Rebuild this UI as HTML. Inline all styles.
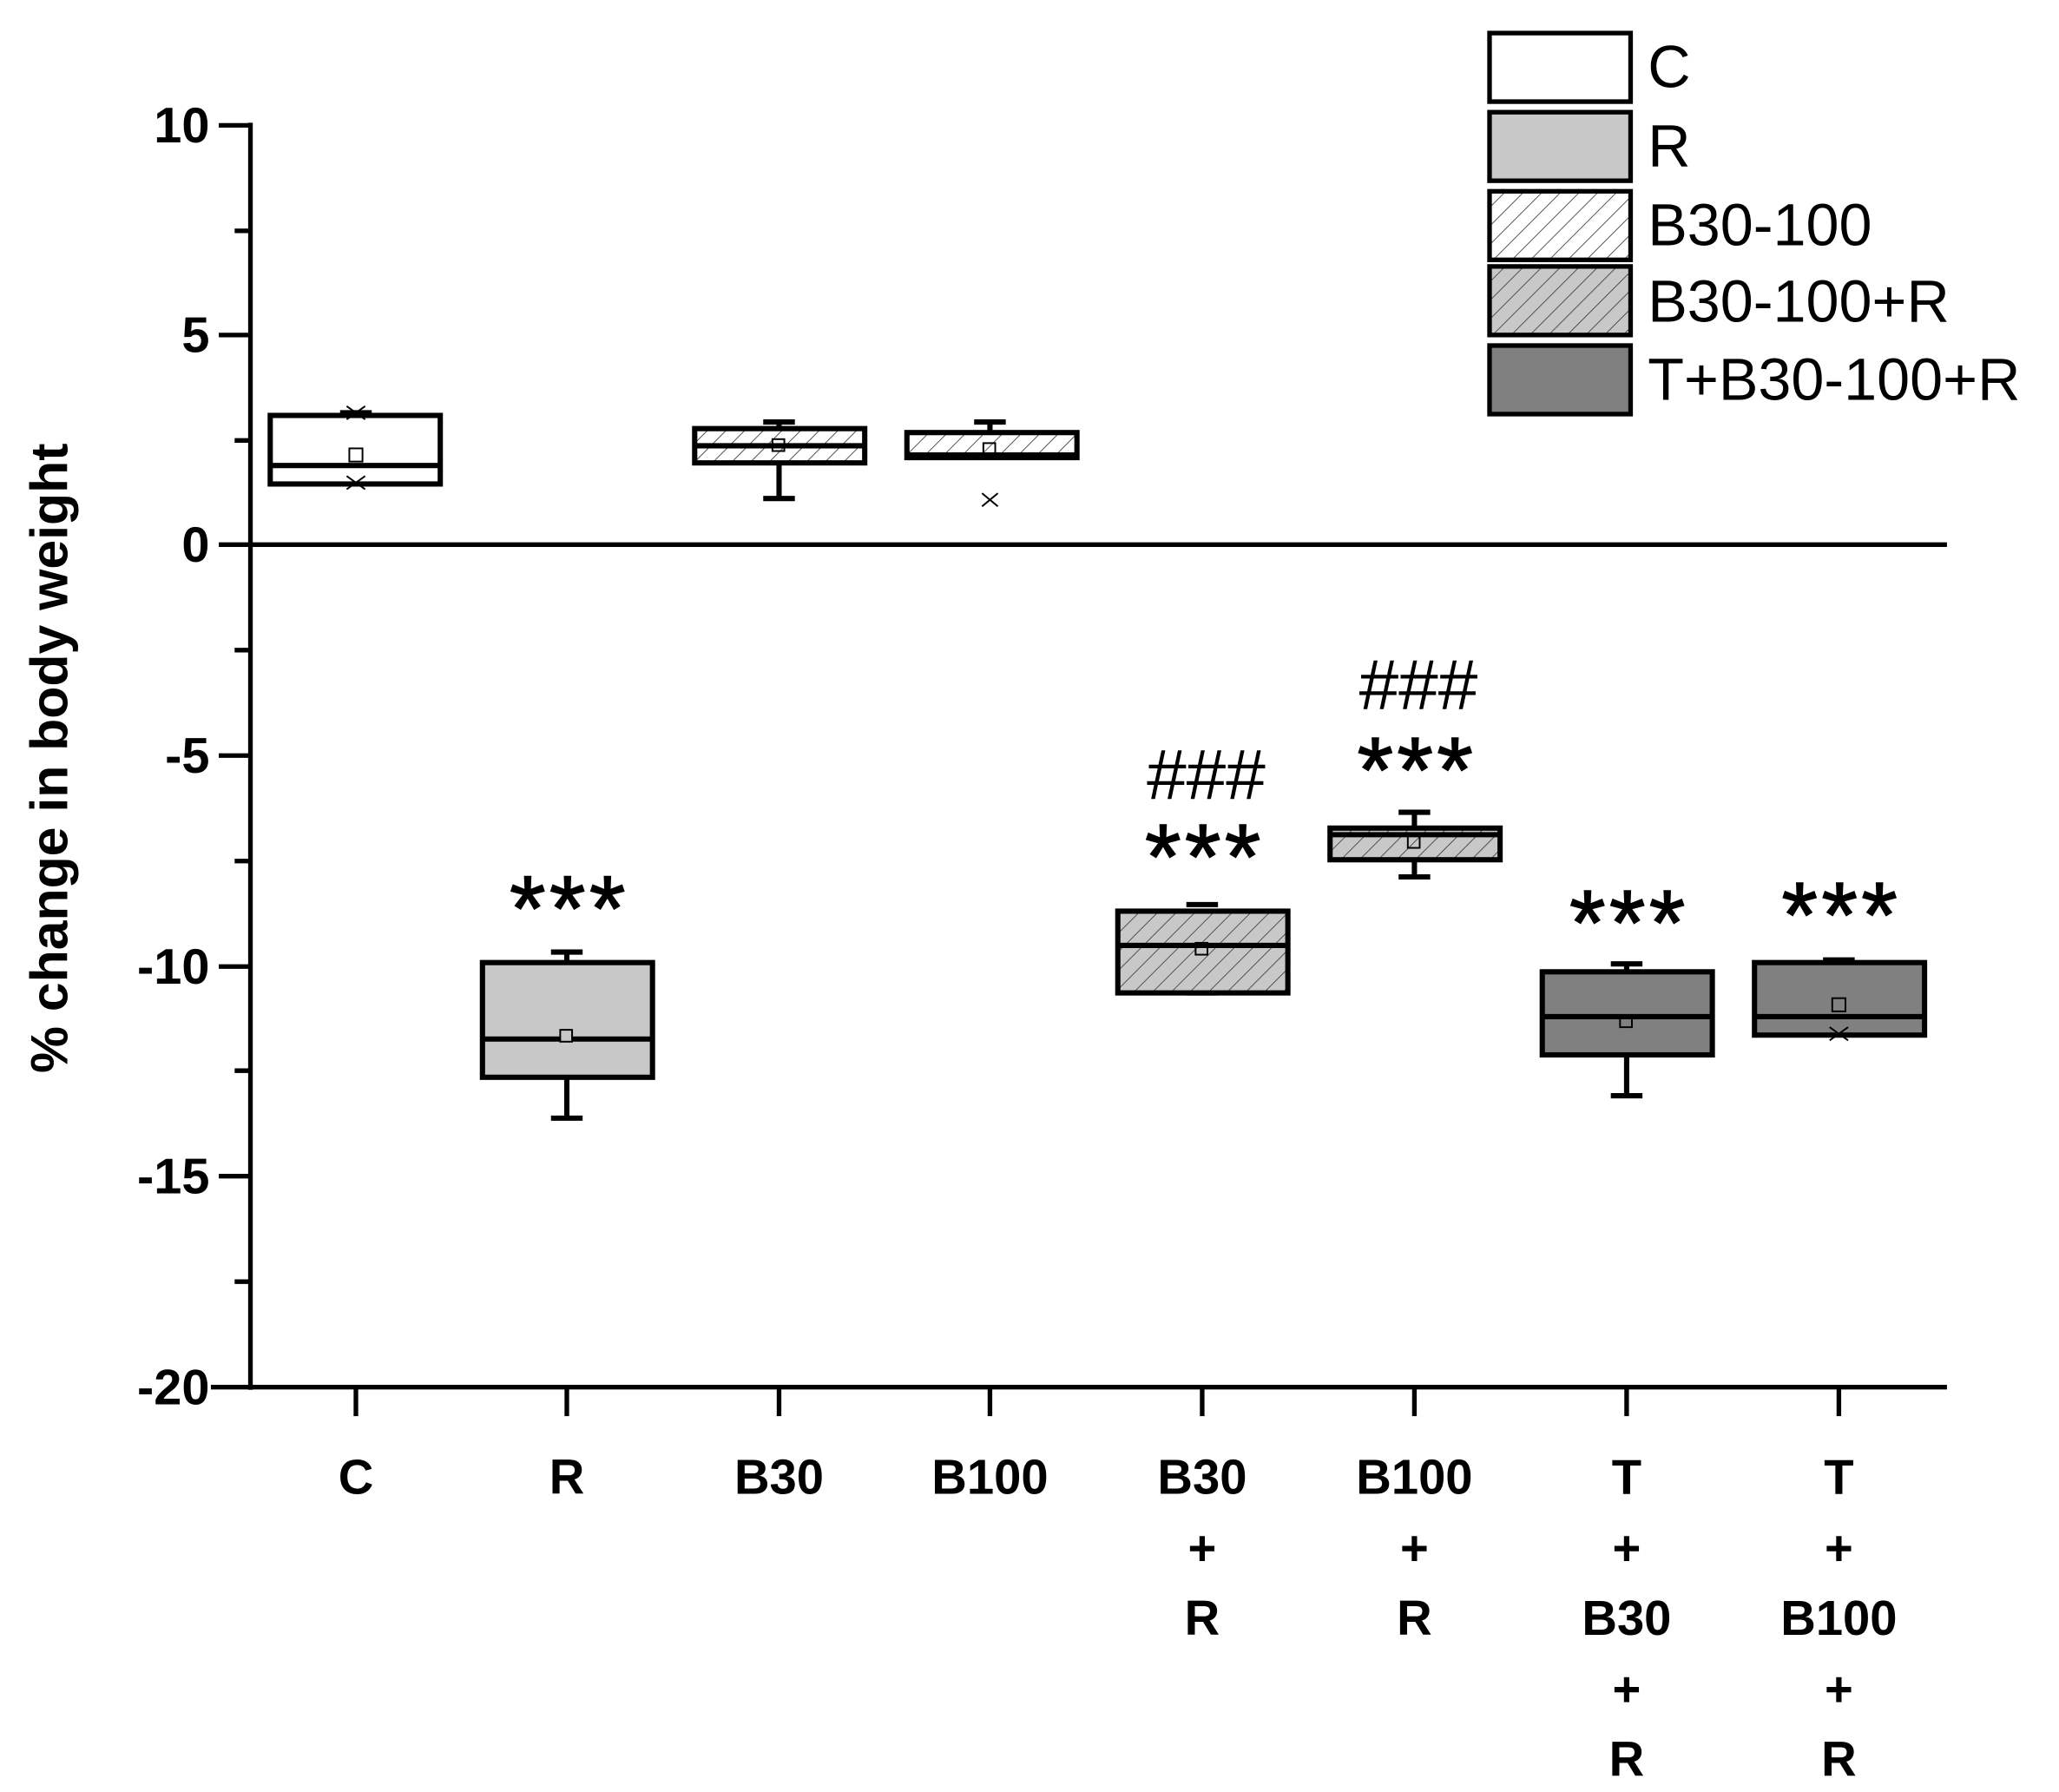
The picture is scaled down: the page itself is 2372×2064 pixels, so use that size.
<!DOCTYPE html>
<html><head><style>body{margin:0;background:#fff}svg{display:block}</style></head><body>
<svg width="2372" height="2064" viewBox="0 0 1562 1359" xmlns="http://www.w3.org/2000/svg" font-family="Liberation Sans, sans-serif">
<defs>
<pattern id="hw" width="10" height="10" patternUnits="userSpaceOnUse" patternTransform="rotate(45)"><rect width="10" height="10" fill="#fff"/><line x1="0" y1="0" x2="0" y2="10" stroke="#444" stroke-width="1.2"/></pattern>
<pattern id="hg" width="10" height="10" patternUnits="userSpaceOnUse" patternTransform="rotate(45)"><rect width="10" height="10" fill="#c8c8c8"/><line x1="0" y1="0" x2="0" y2="10" stroke="#444" stroke-width="1.2"/></pattern>
</defs>
<g stroke="#000" stroke-width="3.5">
<line x1="190" y1="93" x2="190" y2="1054"/>
<line x1="160" y1="1052" x2="1477" y2="1052"/>
<line x1="190" y1="413" x2="1477" y2="413"/>
<line x1="166" y1="95" x2="190" y2="95"/><line x1="166" y1="254" x2="190" y2="254"/><line x1="166" y1="413" x2="190" y2="413"/><line x1="166" y1="573" x2="190" y2="573"/><line x1="166" y1="733" x2="190" y2="733"/><line x1="166" y1="892" x2="190" y2="892"/>
<line x1="178" y1="175" x2="190" y2="175"/><line x1="178" y1="334" x2="190" y2="334"/><line x1="178" y1="493" x2="190" y2="493"/><line x1="178" y1="653" x2="190" y2="653"/><line x1="178" y1="812" x2="190" y2="812"/><line x1="178" y1="972" x2="190" y2="972"/>
<line x1="270" y1="1052" x2="270" y2="1074"/><line x1="430" y1="1052" x2="430" y2="1074"/><line x1="591" y1="1052" x2="591" y2="1074"/><line x1="751" y1="1052" x2="751" y2="1074"/><line x1="912" y1="1052" x2="912" y2="1074"/><line x1="1073" y1="1052" x2="1073" y2="1074"/><line x1="1234" y1="1052" x2="1234" y2="1074"/><line x1="1395" y1="1052" x2="1395" y2="1074"/>
</g>
<g font-weight="bold" font-size="38" text-anchor="end">
<text x="159" y="108">10</text><text x="159" y="267">5</text><text x="159" y="426">0</text><text x="159" y="586">-5</text><text x="159" y="746">-10</text><text x="159" y="905">-15</text><text x="159" y="1065">-20</text>
</g>
<text transform="translate(51,575) rotate(-90)" text-anchor="middle" font-weight="bold" font-size="40">% change in body weight</text>
<g font-weight="bold" font-size="37" text-anchor="middle">
<text x="270" y="1133">C</text><text x="430" y="1133">R</text><text x="591" y="1133">B30</text><text x="751" y="1133">B100</text>
<text x="912" y="1133">B30</text><text x="912" y="1187">+</text><text x="912" y="1240">R</text>
<text x="1073" y="1133">B100</text><text x="1073" y="1187">+</text><text x="1073" y="1240">R</text>
<text x="1234" y="1133">T</text><text x="1234" y="1187">+</text><text x="1234" y="1240">B30</text><text x="1234" y="1294">+</text><text x="1234" y="1347">R</text>
<text x="1395" y="1133">T</text><text x="1395" y="1187">+</text><text x="1395" y="1240">B100</text><text x="1395" y="1294">+</text><text x="1395" y="1347">R</text>
</g>
<g stroke="#000" stroke-width="4">
<line x1="270" y1="313" x2="270" y2="315"/><line x1="258" y1="313" x2="282" y2="313"/>
<rect x="205" y="315" width="129" height="52" fill="#fff"/><line x1="205" y1="353" x2="334" y2="353"/>
<line x1="430" y1="722" x2="430" y2="730"/><line x1="418" y1="722" x2="442" y2="722"/><line x1="430" y1="817" x2="430" y2="848"/><line x1="418" y1="848" x2="442" y2="848"/>
<rect x="366" y="730" width="129" height="87" fill="#c8c8c8"/><line x1="366" y1="788" x2="495" y2="788"/>
<line x1="591" y1="320" x2="591" y2="325"/><line x1="579" y1="320" x2="603" y2="320"/><line x1="591" y1="351" x2="591" y2="378"/><line x1="579" y1="378" x2="603" y2="378"/>
<rect x="527" y="325" width="129" height="26" fill="url(#hw)"/><line x1="527" y1="338" x2="656" y2="338"/>
<line x1="751" y1="320" x2="751" y2="328"/><line x1="739" y1="320" x2="763" y2="320"/>
<rect x="688" y="328" width="129" height="19" fill="url(#hw)"/><line x1="688" y1="345" x2="817" y2="345"/>
<line x1="900" y1="686" x2="924" y2="686"/><line x1="900" y1="753" x2="924" y2="753"/>
<rect x="848" y="691" width="129" height="62" fill="url(#hg)"/><line x1="848" y1="717" x2="977" y2="717"/>
<line x1="1073" y1="616" x2="1073" y2="628"/><line x1="1061" y1="616" x2="1085" y2="616"/><line x1="1073" y1="652" x2="1073" y2="665"/><line x1="1061" y1="665" x2="1085" y2="665"/>
<rect x="1009" y="628" width="129" height="24" fill="url(#hg)"/><line x1="1009" y1="633" x2="1138" y2="633"/>
<line x1="1234" y1="731" x2="1234" y2="737"/><line x1="1222" y1="731" x2="1246" y2="731"/><line x1="1234" y1="800" x2="1234" y2="831"/><line x1="1222" y1="831" x2="1246" y2="831"/>
<rect x="1170" y="737" width="129" height="63" fill="#808080"/><line x1="1170" y1="771" x2="1299" y2="771"/>
<line x1="1383" y1="728" x2="1407" y2="728"/>
<rect x="1331" y="730" width="129" height="55" fill="#808080"/><line x1="1331" y1="771" x2="1460" y2="771"/>
</g>
<g stroke="#000" stroke-width="1.3" fill="none">
<rect x="265" y="340" width="10" height="10" fill="#fff"/><path d="M263 361l14 10M277 361l-14 10M263 308l14 10M277 308l-14 10"/>
<rect x="425" y="781" width="9" height="9" fill="#c8c8c8"/>
<rect x="586" y="333" width="9" height="9"/>
<rect x="746" y="336" width="9" height="9"/><path d="M745 374l12 10M757 374l-12 10"/>
<rect x="907" y="715" width="9" height="9"/>
<rect x="1068" y="634" width="9" height="9"/>
<rect x="1229" y="770" width="9" height="9"/>
<rect x="1390" y="757" width="10" height="10"/><path d="M1388 779l14 10M1402 779l-14 10"/>
</g>
<g font-size="70" text-anchor="middle" letter-spacing="3" stroke="#000" stroke-width="1">
<text x="432" y="713">***</text>
<text x="914" y="674">***</text>
<text x="1075" y="608">***</text>
<text x="1236" y="724">***</text>
<text x="1397" y="718">***</text>
</g>
<g font-size="54" text-anchor="middle">
<text x="915" y="606">###</text>
<text x="1076" y="538">###</text>
</g>
<g stroke="#000" stroke-width="3.5">
<rect x="1130" y="25" width="107" height="52" fill="#fff"/>
<rect x="1130" y="85" width="107" height="52" fill="#c8c8c8"/>
<rect x="1130" y="145" width="107" height="52" fill="url(#hw)"/>
<rect x="1130" y="202" width="107" height="52" fill="url(#hg)"/>
<rect x="1130" y="262" width="107" height="52" fill="#808080"/>
</g>
<g font-size="45">
<text x="1250" y="66">C</text><text x="1250" y="126">R</text><text x="1250" y="186">B30-100</text><text x="1250" y="244">B30-100+R</text><text x="1250" y="303">T+B30-100+R</text>
</g>
</svg>
</body></html>
